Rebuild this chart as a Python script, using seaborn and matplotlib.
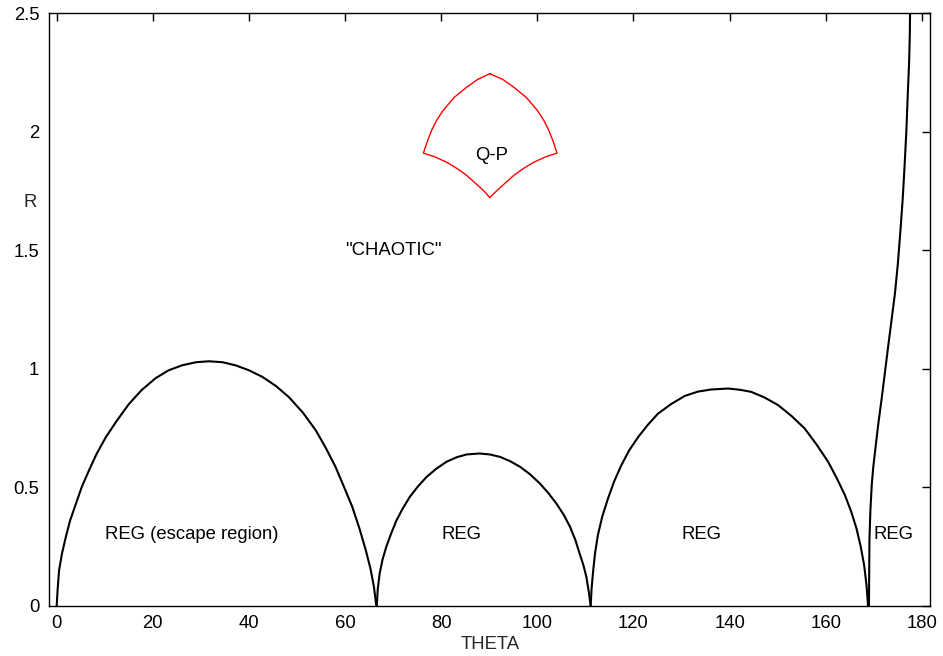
import matplotlib
matplotlib.use("Agg")
import matplotlib.pyplot as plt
import seaborn as sns
import pandas as pd

# boundary curves (theta in degrees, R)
arch1_theta = [0.0, 0.2, 0.5, 1.1, 1.9, 2.8, 4.0, 5.2, 6.7, 8.3, 10.2, 12.5, 15.0, 17.7,
               20.6, 23.3, 26.1, 29.0, 31.7, 34.5, 37.2, 40.0, 42.8, 45.6, 48.3, 51.2,
               53.9, 56.0, 58.0, 59.8, 61.5, 63.0, 64.3, 65.3, 66.0, 66.5]
arch1_r = [0.0, 0.07, 0.15, 0.22, 0.29, 0.36, 0.43, 0.50, 0.57, 0.64, 0.71, 0.78, 0.85, 0.91,
           0.96, 0.993, 1.014, 1.027, 1.031, 1.027, 1.014, 0.993, 0.965, 0.927, 0.88, 0.815,
           0.74, 0.665, 0.586, 0.50, 0.417, 0.325, 0.235, 0.155, 0.08, 0.0]

arch2_theta = [66.6, 66.8, 67.2, 67.8, 68.6, 69.6, 70.7, 72.0, 73.5, 75.2, 77.0, 79.0, 81.1,
               83.2, 85.3, 88.0, 90.1, 92.2, 94.3, 96.4, 98.5, 100.5, 102.3, 104.0, 105.5,
               106.8, 107.9, 108.8, 109.6, 110.2, 110.7, 111.1]
arch2_r = [0.0, 0.07, 0.136, 0.195, 0.25, 0.305, 0.36, 0.41, 0.46, 0.504, 0.544, 0.578, 0.607,
           0.626, 0.638, 0.642, 0.638, 0.628, 0.61, 0.586, 0.554, 0.516, 0.475, 0.43, 0.383,
           0.333, 0.278, 0.22, 0.17, 0.122, 0.06, 0.0]

arch3_theta = [111.1, 111.3, 111.6, 112.0, 112.6, 113.5, 114.7, 116.0, 117.5, 119.1, 121.0,
               123.0, 125.1, 127.8, 130.7, 133.4, 136.2, 139.7, 142.1, 144.5, 147.3, 150.1,
               152.9, 155.6, 158.1, 160.5, 162.3, 164.0, 165.3, 166.4, 167.3, 168.0, 168.5, 168.8]
arch3_r = [0.0, 0.075, 0.143, 0.22, 0.298, 0.375, 0.452, 0.525, 0.593, 0.655, 0.712,
           0.763, 0.81, 0.85, 0.885, 0.903, 0.912, 0.916, 0.911, 0.902, 0.878, 0.846,
           0.80, 0.748, 0.68, 0.607, 0.538, 0.466, 0.397, 0.326, 0.248, 0.17, 0.085, 0.0]

edge_theta = [169.0, 169.05, 169.1, 169.2, 169.3, 169.45, 169.6, 169.9, 170.3, 170.9, 171.6,
              172.25, 172.9, 173.65, 174.4, 175.0, 175.5, 176.0, 176.4, 176.8, 177.1, 177.35,
              177.5, 177.55, 181.7]
edge_r = [0.0, 0.14, 0.277, 0.34, 0.403, 0.46, 0.516, 0.585, 0.656, 0.76, 0.867,
          0.972, 1.078, 1.197, 1.316, 1.44, 1.569, 1.71, 1.85, 2.01, 2.17, 2.29,
          2.41, 2.5, 2.5]

# quasi-periodic island (closed loop, clockwise from the top corner)
qp_theta = [90.1, 92.8, 95.1, 97.7, 100.0, 101.3, 102.4, 103.3, 104.1,
            101.7, 99.3, 97.1, 95.1, 92.4, 91.2, 90.1,
            89.2, 88.0, 85.3, 83.3, 81.1, 78.7, 76.3,
            77.1, 78.0, 79.1, 80.4, 82.7, 85.3, 87.6, 90.1]
qp_r = [2.244, 2.22, 2.187, 2.144, 2.089, 2.049, 2.005, 1.958, 1.909,
        1.893, 1.871, 1.844, 1.815, 1.766, 1.743, 1.721,
        1.743, 1.766, 1.815, 1.844, 1.871, 1.893, 1.909,
        1.958, 2.005, 2.049, 2.089, 2.144, 2.187, 2.22, 2.244]

labels = ['REG (escape region)', 'REG', 'REG', 'REG', '"CHAOTIC"', 'Q-P']
label_theta = [10, 80, 130, 170, 60, 87]
label_r = [0.3, 0.3, 0.3, 0.3, 1.5, 1.9]

sns.set_theme(style="white")
plt.rcParams['font.family'] = ['Liberation Sans', 'DejaVu Sans']

fig = plt.figure(figsize=(9.43, 6.56), dpi=100)
ax = fig.add_axes([49 / 943, 1 - 605.7 / 656, 881 / 943, 592.7 / 656])

black_curves = [(arch1_theta, arch1_r), (arch2_theta, arch2_r),
                (arch3_theta, arch3_r), (edge_theta, edge_r)]
for th, r in black_curves:
    df = pd.DataFrame({'theta': th, 'R': r})
    sns.lineplot(data=df, x='theta', y='R', sort=False, estimator=None,
                 color='black', linewidth=1.5, ax=ax)

qp = pd.DataFrame({'theta': qp_theta, 'R': qp_r})
sns.lineplot(data=qp, x='theta', y='R', sort=False, estimator=None,
             color='red', linewidth=1.0, ax=ax)

fs = 13.3
for txt, x, y in zip(labels, label_theta, label_r):
    ax.text(x, y, txt, fontsize=fs, ha='left', va='center', color='black')

ax.set_xlim(-1.6, 181.7)
ax.set_ylim(0, 2.5)
ax.set_xticks(range(0, 181, 20))
ax.set_yticks([0, 0.5, 1, 1.5, 2, 2.5])
ax.set_yticklabels(['0', '0.5', '1', '1.5', '2', '2.5'])
ax.tick_params(direction='in', length=6, width=1, colors='black',
               labelsize=fs, top=True, right=True, pad=7)

for s in ax.spines.values():
    s.set_color('black')
    s.set_linewidth(1)

ax.set_xlabel('THETA', fontsize=fs, va='center')
ax.xaxis.set_label_coords(0.5006, -0.066)
ax.set_ylabel('R', fontsize=fs, rotation=0, ha='center', va='center')
ax.yaxis.set_label_coords(-0.0216, 0.681)

fig.savefig('out.png', dpi=100)
